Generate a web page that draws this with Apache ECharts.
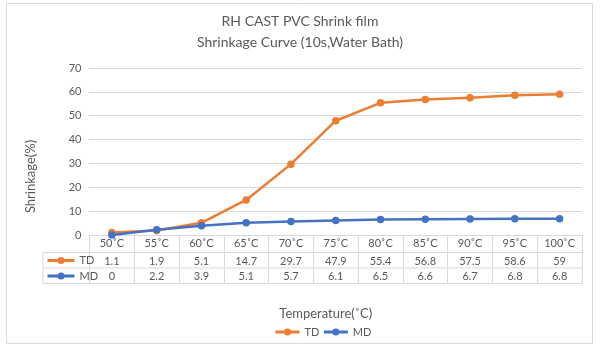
<!DOCTYPE html>
<html>
<head>
<meta charset="utf-8">
<script src="https://cdn.jsdelivr.net/npm/echarts@6/dist/echarts.min.js"></script>
<style>
html,body{margin:0;padding:0;background:#fff;}
#chart{width:600px;height:350px;}
</style>
</head>
<body>
<div id="chart"></div>
<script>
var categories = ['50˚C','55˚C','60˚C','65˚C','70˚C','75˚C','80˚C','85˚C','90˚C','95˚C','100˚C'];
var tdValues = [1.1, 1.9, 5.1, 14.7, 29.7, 47.9, 55.4, 56.8, 57.5, 58.6, 59];
var mdValues = [0, 2.2, 3.9, 5.1, 5.7, 6.1, 6.5, 6.6, 6.7, 6.8, 6.8];
var seriesNames = ['TD', 'MD'];
var yTicks = {min: 0, max: 70, interval: 10};

var FONT = 'Lato, "Open Sans", sans-serif';
var TXT = '#595959';
var LINE = '#d9d9d9';
var ORANGE = '#ED7D31';
var BLUE = '#4472C4';

var gridL = 89.5, gridR = 582, gridT = 68, gridB = 235;
var tableL = 43;
var row1 = 252.5, row2 = 268, row3 = 283.5;

var chart = echarts.init(document.getElementById('chart'), null, {renderer: 'canvas'});

function rowAxis(data, offset) {
  return {
    type: 'category', gridIndex: 0, position: 'bottom', offset: offset,
    data: data.map(function(v){ return String(v); }),
    boundaryGap: true,
    axisLine: {show: false}, axisTick: {show: false}, splitLine: {show: false},
    axisLabel: {interval: 0, margin: 3, color: TXT, fontSize: 11, fontFamily: FONT}
  };
}

var option = {
  backgroundColor: '#fff',
  animation: false,
  title: {
    text: 'RH CAST PVC Shrink film\nShrinkage Curve (10s,Water Bath)',
    left: 'center', top: 11, padding: 0,
    textStyle: {color: TXT, fontSize: 14, fontWeight: 'normal', lineHeight: 21, fontFamily: FONT}
  },
  legend: [
    {
      data: seriesNames, left: 274, top: 326, padding: 0, itemGap: 3,
      itemWidth: 24, itemHeight: 9,
      lineStyle: {width: 3},
      textStyle: {color: TXT, fontSize: 11, fontFamily: FONT, lineHeight: 12}
    },
    {
      data: seriesNames, orient: 'vertical', left: 46, top: 254.5, padding: 0, itemGap: 3.5,
      itemWidth: 27, itemHeight: 9,
      lineStyle: {width: 3},
      textStyle: {color: TXT, fontSize: 11, fontFamily: FONT, lineHeight: 12}
    }
  ],
  grid: {left: gridL, right: 600 - gridR, top: gridT, bottom: 350 - gridB, containLabel: false},
  xAxis: [
    {
      type: 'category', gridIndex: 0, position: 'bottom', data: categories, boundaryGap: true,
      name: 'Temperature(˚C)', nameLocation: 'middle', nameGap: 72,
      nameTextStyle: {color: TXT, fontSize: 13, fontFamily: FONT, padding: [0, 20, 0, 0]},
      axisLine: {show: true, lineStyle: {color: LINE, width: 1}},
      axisTick: {show: true, interval: 0, length: row3 - gridB, lineStyle: {color: LINE, width: 1}},
      axisLabel: {interval: 0, margin: 3, color: TXT, fontSize: 11, fontFamily: FONT},
      splitLine: {show: false}
    },
    rowAxis(tdValues, row1 - gridB),
    rowAxis(mdValues, row2 - gridB)
  ],
  yAxis: {
    type: 'value', min: yTicks.min, max: yTicks.max, interval: yTicks.interval,
    name: 'Shrinkage(%)', nameLocation: 'middle', nameRotate: 90, nameGap: 52,
    nameTextStyle: {color: TXT, fontSize: 13, fontFamily: FONT, padding: [0, 50, 0, 0]},
    axisLine: {show: false}, axisTick: {show: false},
    axisLabel: {color: TXT, fontSize: 11, fontFamily: FONT, margin: 8},
    splitLine: {lineStyle: {color: LINE, width: 1}}
  },
  series: [
    {
      name: seriesNames[0], type: 'line', xAxisIndex: 0, data: tdValues,
      symbol: 'circle', symbolSize: 7.5,
      lineStyle: {color: ORANGE, width: 2.5}, itemStyle: {color: ORANGE}
    },
    {
      name: seriesNames[1], type: 'line', xAxisIndex: 0, data: mdValues,
      symbol: 'circle', symbolSize: 7.5,
      lineStyle: {color: BLUE, width: 2.5}, itemStyle: {color: BLUE}
    }
  ],
  graphic: [
    {type: 'rect', shape: {x: 6.5, y: 3.5, width: 586, height: 340}, style: {fill: 'none', stroke: LINE, lineWidth: 1}, silent: true},
    {type: 'line', shape: {x1: tableL, y1: row1, x2: gridR, y2: row1}, style: {stroke: LINE, lineWidth: 1}, silent: true},
    {type: 'line', shape: {x1: tableL, y1: row2, x2: gridR, y2: row2}, style: {stroke: LINE, lineWidth: 1}, silent: true},
    {type: 'line', shape: {x1: tableL, y1: row3, x2: gridR, y2: row3}, style: {stroke: LINE, lineWidth: 1}, silent: true},
    {type: 'line', shape: {x1: tableL, y1: row1, x2: tableL, y2: row3}, style: {stroke: LINE, lineWidth: 1}, silent: true}
  ]
};
chart.setOption(option);
</script>
</body>
</html>
